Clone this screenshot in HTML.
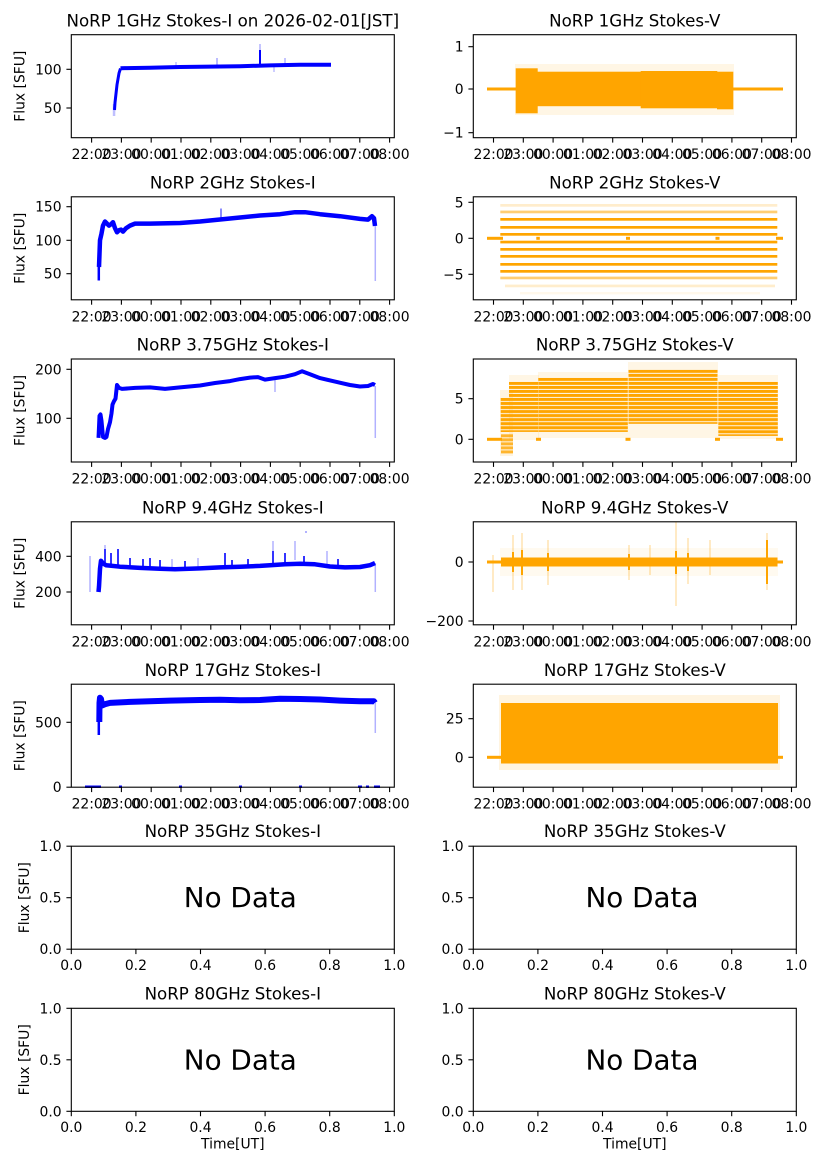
<!DOCTYPE html>
<html><head><meta charset="utf-8"><style>
html,body{margin:0;padding:0;background:#fff;}
svg{display:block;}
text{font-family:"DejaVu Sans","Liberation Sans",sans-serif;fill:#000;}
.tk{font-size:13.9px;}
.tt{font-size:16.67px;}
.yl{font-size:13.9px;}
.nd{font-size:27.8px;}
.ax{fill:none;stroke:#000;stroke-width:1.1;}
.tm line{stroke:#000;stroke-width:1.1;}
.bl{fill:none;stroke:#0000ff;stroke-linejoin:round;stroke-linecap:butt;}
</style></head><body>
<svg width="827" height="1169" viewBox="0 0 827 1169" xmlns="http://www.w3.org/2000/svg">
<defs>
<pattern id="strp" patternUnits="userSpaceOnUse" x="0" y="381.9" width="10" height="4.03">
<rect x="0" y="0" width="10" height="3" fill="#ffa500"/>
</pattern>
<g id="xl" stroke="#000" stroke-width="1.1">
<line x1="91.6" y1="0" x2="91.6" y2="4.9"/><line x1="121.4" y1="0" x2="121.4" y2="4.9"/><line x1="151.2" y1="0" x2="151.2" y2="4.9"/><line x1="181" y1="0" x2="181" y2="4.9"/><line x1="210.8" y1="0" x2="210.8" y2="4.9"/><line x1="240.6" y1="0" x2="240.6" y2="4.9"/><line x1="270.4" y1="0" x2="270.4" y2="4.9"/><line x1="300.2" y1="0" x2="300.2" y2="4.9"/><line x1="330" y1="0" x2="330" y2="4.9"/><line x1="359.8" y1="0" x2="359.8" y2="4.9"/><line x1="389.6" y1="0" x2="389.6" y2="4.9"/>
</g>
</defs>
<rect width="827" height="1169" fill="#fff"/>

<!-- ================= ROW 1 ================= -->
<g>
<rect x="112.8" y="104" width="2.5" height="12" fill="#0000ff" opacity="0.25"/>
<polyline class="bl" stroke-width="3" points="114.5,110 115,102.6 117,84.8 119,73.2 120.5,68.5"/>
<polyline class="bl" stroke-width="4" points="120.5,68.3 125,68.1 150,67.8 180,67 210,66.6 240,66.2 270,65.4 300,64.7 331,64.7"/>
<line x1="260" y1="66" x2="260" y2="50" stroke="#0000ff" stroke-width="2"/>
<line x1="260" y1="50" x2="260" y2="44" stroke="#0000ff" stroke-width="1.5" opacity="0.3"/>
<line x1="217" y1="66" x2="217" y2="58" stroke="#0000ff" stroke-width="1.5" opacity="0.35"/>
<line x1="285" y1="65" x2="285" y2="58" stroke="#0000ff" stroke-width="1.5" opacity="0.3"/>
<line x1="176" y1="67" x2="176" y2="62" stroke="#0000ff" stroke-width="1.5" opacity="0.25"/>
<line x1="274" y1="66" x2="274" y2="72" stroke="#0000ff" stroke-width="1.5" opacity="0.25"/>
</g>
<g>
<rect x="487" y="87.5" width="296" height="3" fill="#ffa500"/>
<rect x="515" y="64" width="219" height="51" fill="#ffa500" opacity="0.1"/>
<rect x="515.7" y="68.3" width="22" height="45" fill="#ffa500"/>
<rect x="537.5" y="71.7" width="103.5" height="34.5" fill="#ffa500"/>
<rect x="640.7" y="71" width="76.6" height="37.3" fill="#ffa500"/>
<rect x="717" y="71.7" width="16.3" height="37.6" fill="#ffa500"/>
</g>
<rect class="ax" x="71.3" y="34.7" width="323" height="103"/>
<rect class="ax" x="473.3" y="34.7" width="323" height="103"/>

<!-- ================= ROW 2 ================= -->
<g>
<line x1="98.8" y1="280.5" x2="98.8" y2="262" stroke="#0000ff" stroke-width="2.5"/>
<polyline class="bl" stroke-width="4.5" points="99,267 100,240.3 101.5,233.6 103,225.6 105,221.5 107,223.6 109,225.6 111,224.3 113,222.2 115,228.2 117,232.3 119,230.3 121,229.6 123,231.6 126,228.2 130,225.6 135,223.6 150,223.6 180,223 200,221.5 220,219.5 240,217.5 260,215.5 280,214.2 295,212.2 305,212.2 320,214.2 340,216.2 360,218.9 368,219.6 372,216.2 374,218.2 375,226"/>
<line x1="221" y1="218" x2="221" y2="208.5" stroke="#0000ff" stroke-width="1.5" opacity="0.6"/>
<line x1="375.3" y1="226" x2="375.3" y2="281" stroke="#0000ff" stroke-width="1.5" opacity="0.3"/>
</g>
<g fill="#ffa500">
<rect x="500.3" y="204" width="277" height="2.7" opacity="0.2"/>
<rect x="500.3" y="210.6" width="277" height="2.7" opacity="0.55"/>
<rect x="500.3" y="218" width="277" height="2.7"/>
<rect x="500.3" y="226" width="277" height="2.7"/>
<rect x="500.3" y="233" width="277" height="2.7"/>
<rect x="500.3" y="240.7" width="277" height="2.7"/>
<rect x="500.3" y="248" width="277" height="2.7"/>
<rect x="500.3" y="255" width="277" height="2.7"/>
<rect x="500.3" y="263" width="277" height="2.7"/>
<rect x="500.3" y="270" width="277" height="2.7"/>
<rect x="500.3" y="276.6" width="277" height="2.7" opacity="0.55"/>
<rect x="505" y="284.6" width="270" height="2.7" opacity="0.2"/>
<rect x="520" y="292" width="240" height="2.4" opacity="0.08"/>
<rect x="487" y="236.8" width="16" height="3"/>
<rect x="536.3" y="236.8" width="3.5" height="3"/>
<rect x="626" y="236.8" width="4" height="3"/>
<rect x="715.5" y="236.8" width="4" height="3"/>
<rect x="776" y="236.8" width="7" height="3"/>
</g>
<rect class="ax" x="71.3" y="196.8" width="323" height="103"/>
<rect class="ax" x="473.3" y="196.8" width="323" height="103"/>

<!-- ================= ROW 3 ================= -->
<g>
<polyline class="bl" stroke-width="4" points="98.5,437.9 99.5,415.9 100.5,414.4 101.5,420.8 103,436.9 105,437.9 106.5,436.9 108,429.1 110,422.2 111.5,413.4 112.5,404.6 114,401.2 115.5,398.7 117,385 119,387.9 122,388.9 135,387.9 150,387.4 165,388.9 180,387.4 200,385.5 215,383 230,381.1 240,379.1 250,377.6 258,377.1 265,379.6 275,378.1 285,376.7 295,374.2 302,371.3 310,374.2 320,378.1 335,381.6 350,385 360,386.5 368,386 373,384 375,385"/>
<line x1="375.3" y1="386" x2="375.3" y2="438" stroke="#0000ff" stroke-width="1.5" opacity="0.3"/>
<line x1="275" y1="380" x2="275" y2="392" stroke="#0000ff" stroke-width="1.5" opacity="0.3"/>
</g>
<g>
<rect x="500" y="390" width="13" height="66" fill="#ffa500" opacity="0.12"/>
<rect x="500.7" y="398" width="8.5" height="34" fill="url(#strp)"/>
<rect x="501" y="434" width="12" height="20" fill="url(#strp)" opacity="0.8"/>
<rect x="509" y="375" width="30" height="65" fill="#ffa500" opacity="0.1"/>
<rect x="509" y="381.9" width="29" height="50" fill="url(#strp)"/>
<rect x="538" y="372" width="90" height="66" fill="#ffa500" opacity="0.1"/>
<rect x="538.3" y="377.9" width="89.5" height="54" fill="url(#strp)"/>
<rect x="628" y="362" width="90" height="76" fill="#ffa500" opacity="0.1"/>
<rect x="628.5" y="369.8" width="89" height="54" fill="url(#strp)"/>
<rect x="718" y="375" width="60" height="64" fill="#ffa500" opacity="0.1"/>
<rect x="718.3" y="381.9" width="59.5" height="54" fill="url(#strp)"/>
<g fill="#ffa500">
<rect x="487" y="437.8" width="15" height="3"/>
<rect x="536" y="437.8" width="5" height="3"/>
<rect x="625.5" y="437.8" width="5" height="3"/>
<rect x="715" y="437.8" width="5" height="3"/>
<rect x="776" y="437.8" width="7" height="3"/>
</g>
</g>
<rect class="ax" x="71.3" y="359" width="323" height="103"/>
<rect class="ax" x="473.3" y="359" width="323" height="103"/>

<!-- ================= ROW 4 ================= -->
<g>
<line x1="90" y1="556" x2="90" y2="592" stroke="#0000ff" stroke-width="1.5" opacity="0.3"/>
<polyline class="bl" stroke-width="4.5" points="98.5,592 99,586.6 100,568.8 101,560.8 103,563.4 106,565.2 110,565.6 120,566.7 140,567.9 160,568.8 175,569.2 200,568.4 220,567.4 240,566.7 260,565.9 270,565.2 285,564.3 300,563.8 315,564.3 330,566.5 345,567.4 360,567 370,565.2 375,563.1"/>
<line x1="375.3" y1="563" x2="375.3" y2="592" stroke="#0000ff" stroke-width="1.5" opacity="0.3"/>
<g stroke="#0000ff" stroke-width="1.6">
<line x1="105" y1="563" x2="105" y2="549"/>
<line x1="111" y1="564" x2="111" y2="553"/>
<line x1="118" y1="565" x2="118" y2="549"/>
<line x1="130" y1="566" x2="130" y2="558"/>
<line x1="143" y1="567" x2="143" y2="559"/>
<line x1="150" y1="567" x2="150" y2="558"/>
<line x1="160" y1="568" x2="160" y2="560"/>
<line x1="185" y1="568" x2="185" y2="561"/>
<line x1="225" y1="567" x2="225" y2="553"/>
<line x1="232" y1="567" x2="232" y2="560"/>
<line x1="248" y1="566" x2="248" y2="559"/>
<line x1="273" y1="565" x2="273" y2="551"/>
<line x1="285" y1="564" x2="285" y2="553"/>
<line x1="304" y1="564" x2="304" y2="556"/>
<line x1="338" y1="567" x2="338" y2="559"/>
</g>
<g stroke="#0000ff" stroke-width="1.5" opacity="0.3">
<line x1="105" y1="549" x2="105" y2="545"/>
<line x1="273" y1="551" x2="273" y2="541"/>
<line x1="295" y1="560" x2="295" y2="541"/>
<line x1="327" y1="566" x2="327" y2="551"/>
<line x1="198" y1="568" x2="198" y2="558"/>
<line x1="172" y1="568" x2="172" y2="559"/>
</g>
<rect x="305" y="531" width="2" height="2" fill="#0000ff" opacity="0.3"/>
</g>
<g>
<rect x="500" y="548" width="278" height="28" fill="#ffa500" opacity="0.06"/>
<rect x="487" y="560.5" width="296" height="3" fill="#ffa500"/>
<rect x="501" y="557.5" width="276.5" height="9" fill="#ffa500"/>
<g stroke="#ffa500" stroke-width="2">
<line x1="513" y1="552" x2="513" y2="572"/>
<line x1="522" y1="550" x2="522" y2="575"/>
<line x1="548" y1="553" x2="548" y2="571"/>
<line x1="629" y1="554" x2="629" y2="570"/>
<line x1="676" y1="551" x2="676" y2="574"/>
<line x1="688" y1="553" x2="688" y2="571"/>
<line x1="767" y1="540" x2="767" y2="584"/>
</g>
<g stroke="#ffa500" stroke-width="1.5" opacity="0.3">
<line x1="513" y1="535" x2="513" y2="590"/>
<line x1="522" y1="533" x2="522" y2="590"/>
<line x1="548" y1="540" x2="548" y2="585"/>
<line x1="629" y1="545" x2="629" y2="580"/>
<line x1="676" y1="522" x2="676" y2="606"/>
<line x1="688" y1="538" x2="688" y2="584"/>
<line x1="767" y1="533" x2="767" y2="590"/>
<line x1="493" y1="555" x2="493" y2="592"/>
<line x1="650" y1="545" x2="650" y2="575"/>
<line x1="710" y1="540" x2="710" y2="575"/>
</g>
</g>
<rect class="ax" x="71.3" y="521.8" width="323" height="103"/>
<rect class="ax" x="473.3" y="521.8" width="323" height="103"/>

<!-- ================= ROW 5 ================= -->
<g>
<line x1="98.8" y1="735" x2="98.8" y2="722" stroke="#0000ff" stroke-width="2.5"/>
<polyline class="bl" stroke-width="6" points="99.3,722 99.5,702.9 100,697.7 101,699 102,705.5 105,704.2 110,702.9 130,701.9 150,701.3 170,700.6 200,700 220,699.7 240,700.3 260,700 280,698.7 300,699 320,699.5 340,700.6 360,701.3 374,701.3 375,702.9"/>
<line x1="375.3" y1="703" x2="375.3" y2="733" stroke="#0000ff" stroke-width="1.5" opacity="0.3"/>
<g fill="#0000ff">
<rect x="85" y="785.5" width="16" height="2.5"/>
<rect x="119" y="785.5" width="3" height="2.5"/>
<rect x="179" y="785.5" width="3" height="2.5"/>
<rect x="239" y="785.5" width="3" height="2.5"/>
<rect x="299" y="785.5" width="3" height="2.5"/>
<rect x="358" y="785.5" width="4" height="2.5"/>
<rect x="366" y="785.5" width="3" height="2.5"/>
<rect x="374" y="785.5" width="6" height="2.5"/>
</g>
</g>
<g>
<rect x="499" y="695" width="281" height="75" fill="#ffa500" opacity="0.12"/>
<rect x="487" y="755.8" width="296" height="3" fill="#ffa500"/>
<rect x="501" y="703" width="277" height="60.5" fill="#ffa500"/>
</g>
<rect class="ax" x="71.3" y="684.2" width="323" height="103"/>
<rect class="ax" x="473.3" y="684.2" width="323" height="103"/>

<!-- ================= ROW 6 & 7 ================= -->
<rect class="ax" x="71.3" y="846.2" width="323" height="103"/>
<rect class="ax" x="473.3" y="846.2" width="323" height="103"/>
<rect class="ax" x="71.3" y="1008.3" width="323" height="103"/>
<rect class="ax" x="473.3" y="1008.3" width="323" height="103"/>
<text class="nd" x="240.3" y="907.2" text-anchor="middle">No Data</text>
<text class="nd" x="642" y="907.2" text-anchor="middle">No Data</text>
<text class="nd" x="240.3" y="1069.3" text-anchor="middle">No Data</text>
<text class="nd" x="642" y="1069.3" text-anchor="middle">No Data</text>

<!-- ================= TITLES ================= -->
<g text-anchor="middle">
<text class="tt" x="232.8" y="26.4">NoRP 1GHz Stokes-I on 2026-02-01[JST]</text>
<text class="tt" x="634.8" y="26.4">NoRP 1GHz Stokes-V</text>
<text class="tt" x="232.8" y="188.4">NoRP 2GHz Stokes-I</text>
<text class="tt" x="634.8" y="188.4">NoRP 2GHz Stokes-V</text>
<text class="tt" x="232.8" y="350.6">NoRP 3.75GHz Stokes-I</text>
<text class="tt" x="634.8" y="350.6">NoRP 3.75GHz Stokes-V</text>
<text class="tt" x="232.8" y="513.4">NoRP 9.4GHz Stokes-I</text>
<text class="tt" x="634.8" y="513.4">NoRP 9.4GHz Stokes-V</text>
<text class="tt" x="232.8" y="675.8">NoRP 17GHz Stokes-I</text>
<text class="tt" x="634.8" y="675.8">NoRP 17GHz Stokes-V</text>
<text class="tt" x="232.8" y="837.2">NoRP 35GHz Stokes-I</text>
<text class="tt" x="634.8" y="837.2">NoRP 35GHz Stokes-V</text>
<text class="tt" x="232.8" y="999.3">NoRP 80GHz Stokes-I</text>
<text class="tt" x="634.8" y="999.3">NoRP 80GHz Stokes-V</text>
</g>

<!-- ================= Y LABELS ================= -->
<g text-anchor="middle">
<text class="yl" transform="translate(24.5,86.2) rotate(-90)">Flux [SFU]</text>
<text class="yl" transform="translate(24.5,248.3) rotate(-90)">Flux [SFU]</text>
<text class="yl" transform="translate(24.5,410.5) rotate(-90)">Flux [SFU]</text>
<text class="yl" transform="translate(24.5,573.3) rotate(-90)">Flux [SFU]</text>
<text class="yl" transform="translate(24.5,735.7) rotate(-90)">Flux [SFU]</text>
<text class="yl" transform="translate(29,897.7) rotate(-90)">Flux [SFU]</text>
<text class="yl" transform="translate(29,1059.8) rotate(-90)">Flux [SFU]</text>
</g>
<text class="yl" x="232.8" y="1148.5" text-anchor="middle">Time[UT]</text>
<text class="yl" x="634.8" y="1148.5" text-anchor="middle">Time[UT]</text>

<!-- ================= Y TICKS ================= -->
<g class="tm">
<line x1="71.3" y1="69.3" x2="66.4" y2="69.3"/><line x1="71.3" y1="108" x2="66.4" y2="108"/>
<line x1="473.3" y1="46.7" x2="468.4" y2="46.7"/><line x1="473.3" y1="89" x2="468.4" y2="89"/><line x1="473.3" y1="132.7" x2="468.4" y2="132.7"/>
<line x1="71.3" y1="206.7" x2="66.4" y2="206.7"/><line x1="71.3" y1="240.3" x2="66.4" y2="240.3"/><line x1="71.3" y1="273.7" x2="66.4" y2="273.7"/>
<line x1="473.3" y1="202.3" x2="468.4" y2="202.3"/><line x1="473.3" y1="238.3" x2="468.4" y2="238.3"/><line x1="473.3" y1="274.3" x2="468.4" y2="274.3"/>
<line x1="71.3" y1="369.3" x2="66.4" y2="369.3"/><line x1="71.3" y1="418.3" x2="66.4" y2="418.3"/>
<line x1="473.3" y1="398.7" x2="468.4" y2="398.7"/><line x1="473.3" y1="439.3" x2="468.4" y2="439.3"/>
<line x1="71.3" y1="556.3" x2="66.4" y2="556.3"/><line x1="71.3" y1="592" x2="66.4" y2="592"/>
<line x1="473.3" y1="562" x2="468.4" y2="562"/><line x1="473.3" y1="621" x2="468.4" y2="621"/>
<line x1="71.3" y1="722.3" x2="66.4" y2="722.3"/><line x1="71.3" y1="787.2" x2="66.4" y2="787.2"/>
<line x1="473.3" y1="718.7" x2="468.4" y2="718.7"/><line x1="473.3" y1="757.3" x2="468.4" y2="757.3"/>
<line x1="71.3" y1="846.2" x2="66.4" y2="846.2"/><line x1="71.3" y1="897.7" x2="66.4" y2="897.7"/><line x1="71.3" y1="949.2" x2="66.4" y2="949.2"/>
<line x1="473.3" y1="846.2" x2="468.4" y2="846.2"/><line x1="473.3" y1="897.7" x2="468.4" y2="897.7"/><line x1="473.3" y1="949.2" x2="468.4" y2="949.2"/>
<line x1="71.3" y1="1008.3" x2="66.4" y2="1008.3"/><line x1="71.3" y1="1059.8" x2="66.4" y2="1059.8"/><line x1="71.3" y1="1111.3" x2="66.4" y2="1111.3"/>
<line x1="473.3" y1="1008.3" x2="468.4" y2="1008.3"/><line x1="473.3" y1="1059.8" x2="468.4" y2="1059.8"/><line x1="473.3" y1="1111.3" x2="468.4" y2="1111.3"/>
</g>
<g text-anchor="end">
<text class="tk" x="61.6" y="74.3">100</text><text class="tk" x="61.6" y="113">50</text>
<text class="tk" x="463.6" y="51.7">1</text><text class="tk" x="463.6" y="94">0</text><text class="tk" x="463.6" y="137.7">−1</text>
<text class="tk" x="61.6" y="211.7">150</text><text class="tk" x="61.6" y="245.3">100</text><text class="tk" x="61.6" y="278.7">50</text>
<text class="tk" x="463.6" y="207.3">5</text><text class="tk" x="463.6" y="243.3">0</text><text class="tk" x="463.6" y="279.3">−5</text>
<text class="tk" x="61.6" y="374.3">200</text><text class="tk" x="61.6" y="423.3">100</text>
<text class="tk" x="463.6" y="403.7">5</text><text class="tk" x="463.6" y="444.3">0</text>
<text class="tk" x="61.6" y="561.3">400</text><text class="tk" x="61.6" y="597">200</text>
<text class="tk" x="463.6" y="567">0</text><text class="tk" x="463.6" y="626">−200</text>
<text class="tk" x="61.6" y="727.3">500</text><text class="tk" x="61.6" y="792.2">0</text>
<text class="tk" x="463.6" y="723.7">25</text><text class="tk" x="463.6" y="762.3">0</text>
<text class="tk" x="61.6" y="851.2">1.0</text><text class="tk" x="61.6" y="902.7">0.5</text><text class="tk" x="61.6" y="954.2">0.0</text>
<text class="tk" x="463.6" y="851.2">1.0</text><text class="tk" x="463.6" y="902.7">0.5</text><text class="tk" x="463.6" y="954.2">0.0</text>
<text class="tk" x="61.6" y="1013.3">1.0</text><text class="tk" x="61.6" y="1064.8">0.5</text><text class="tk" x="61.6" y="1116.3">0.0</text>
<text class="tk" x="463.6" y="1013.3">1.0</text><text class="tk" x="463.6" y="1064.8">0.5</text><text class="tk" x="463.6" y="1116.3">0.0</text>
</g>

<!-- ================= X TICKS (time) ================= -->
<use href="#xl" transform="translate(0,137.7)"/>
<use href="#xl" transform="translate(0,299.8)"/>
<use href="#xl" transform="translate(0,462)"/>
<use href="#xl" transform="translate(0,624.8)"/>
<use href="#xl" transform="translate(0,787.2)"/>
<use href="#xl" transform="translate(401.9,137.7)"/>
<use href="#xl" transform="translate(401.9,299.8)"/>
<use href="#xl" transform="translate(401.9,462)"/>
<use href="#xl" transform="translate(401.9,624.8)"/>
<use href="#xl" transform="translate(401.9,787.2)"/>

<g text-anchor="middle">
<g transform="translate(0,159.2)">
<text class="tk" x="91.6">22:00</text><text class="tk" x="121.4">23:00</text><text class="tk" x="151.2">00:00</text><text class="tk" x="181">01:00</text><text class="tk" x="210.8">02:00</text><text class="tk" x="240.6">03:00</text><text class="tk" x="270.4">04:00</text><text class="tk" x="300.2">05:00</text><text class="tk" x="330">06:00</text><text class="tk" x="359.8">07:00</text><text class="tk" x="389.6">08:00</text>
</g>
<g transform="translate(0,321.3)">
<text class="tk" x="91.6">22:00</text><text class="tk" x="121.4">23:00</text><text class="tk" x="151.2">00:00</text><text class="tk" x="181">01:00</text><text class="tk" x="210.8">02:00</text><text class="tk" x="240.6">03:00</text><text class="tk" x="270.4">04:00</text><text class="tk" x="300.2">05:00</text><text class="tk" x="330">06:00</text><text class="tk" x="359.8">07:00</text><text class="tk" x="389.6">08:00</text>
</g>
<g transform="translate(0,483.5)">
<text class="tk" x="91.6">22:00</text><text class="tk" x="121.4">23:00</text><text class="tk" x="151.2">00:00</text><text class="tk" x="181">01:00</text><text class="tk" x="210.8">02:00</text><text class="tk" x="240.6">03:00</text><text class="tk" x="270.4">04:00</text><text class="tk" x="300.2">05:00</text><text class="tk" x="330">06:00</text><text class="tk" x="359.8">07:00</text><text class="tk" x="389.6">08:00</text>
</g>
<g transform="translate(0,646.3)">
<text class="tk" x="91.6">22:00</text><text class="tk" x="121.4">23:00</text><text class="tk" x="151.2">00:00</text><text class="tk" x="181">01:00</text><text class="tk" x="210.8">02:00</text><text class="tk" x="240.6">03:00</text><text class="tk" x="270.4">04:00</text><text class="tk" x="300.2">05:00</text><text class="tk" x="330">06:00</text><text class="tk" x="359.8">07:00</text><text class="tk" x="389.6">08:00</text>
</g>
<g transform="translate(0,808.7)">
<text class="tk" x="91.6">22:00</text><text class="tk" x="121.4">23:00</text><text class="tk" x="151.2">00:00</text><text class="tk" x="181">01:00</text><text class="tk" x="210.8">02:00</text><text class="tk" x="240.6">03:00</text><text class="tk" x="270.4">04:00</text><text class="tk" x="300.2">05:00</text><text class="tk" x="330">06:00</text><text class="tk" x="359.8">07:00</text><text class="tk" x="389.6">08:00</text>
</g>
<g transform="translate(401.9,159.2)">
<text class="tk" x="91.6">22:00</text><text class="tk" x="121.4">23:00</text><text class="tk" x="151.2">00:00</text><text class="tk" x="181">01:00</text><text class="tk" x="210.8">02:00</text><text class="tk" x="240.6">03:00</text><text class="tk" x="270.4">04:00</text><text class="tk" x="300.2">05:00</text><text class="tk" x="330">06:00</text><text class="tk" x="359.8">07:00</text><text class="tk" x="389.6">08:00</text>
</g>
<g transform="translate(401.9,321.3)">
<text class="tk" x="91.6">22:00</text><text class="tk" x="121.4">23:00</text><text class="tk" x="151.2">00:00</text><text class="tk" x="181">01:00</text><text class="tk" x="210.8">02:00</text><text class="tk" x="240.6">03:00</text><text class="tk" x="270.4">04:00</text><text class="tk" x="300.2">05:00</text><text class="tk" x="330">06:00</text><text class="tk" x="359.8">07:00</text><text class="tk" x="389.6">08:00</text>
</g>
<g transform="translate(401.9,483.5)">
<text class="tk" x="91.6">22:00</text><text class="tk" x="121.4">23:00</text><text class="tk" x="151.2">00:00</text><text class="tk" x="181">01:00</text><text class="tk" x="210.8">02:00</text><text class="tk" x="240.6">03:00</text><text class="tk" x="270.4">04:00</text><text class="tk" x="300.2">05:00</text><text class="tk" x="330">06:00</text><text class="tk" x="359.8">07:00</text><text class="tk" x="389.6">08:00</text>
</g>
<g transform="translate(401.9,646.3)">
<text class="tk" x="91.6">22:00</text><text class="tk" x="121.4">23:00</text><text class="tk" x="151.2">00:00</text><text class="tk" x="181">01:00</text><text class="tk" x="210.8">02:00</text><text class="tk" x="240.6">03:00</text><text class="tk" x="270.4">04:00</text><text class="tk" x="300.2">05:00</text><text class="tk" x="330">06:00</text><text class="tk" x="359.8">07:00</text><text class="tk" x="389.6">08:00</text>
</g>
<g transform="translate(401.9,808.7)">
<text class="tk" x="91.6">22:00</text><text class="tk" x="121.4">23:00</text><text class="tk" x="151.2">00:00</text><text class="tk" x="181">01:00</text><text class="tk" x="210.8">02:00</text><text class="tk" x="240.6">03:00</text><text class="tk" x="270.4">04:00</text><text class="tk" x="300.2">05:00</text><text class="tk" x="330">06:00</text><text class="tk" x="359.8">07:00</text><text class="tk" x="389.6">08:00</text>
</g>
</g>

<!-- ================= X TICKS (0-1) ================= -->
<g class="tm">
<line x1="71.3" y1="949.2" x2="71.3" y2="954.1"/><line x1="135.9" y1="949.2" x2="135.9" y2="954.1"/><line x1="200.5" y1="949.2" x2="200.5" y2="954.1"/><line x1="265.1" y1="949.2" x2="265.1" y2="954.1"/><line x1="329.7" y1="949.2" x2="329.7" y2="954.1"/><line x1="394.3" y1="949.2" x2="394.3" y2="954.1"/>
<line x1="473.3" y1="949.2" x2="473.3" y2="954.1"/><line x1="537.9" y1="949.2" x2="537.9" y2="954.1"/><line x1="602.5" y1="949.2" x2="602.5" y2="954.1"/><line x1="667.1" y1="949.2" x2="667.1" y2="954.1"/><line x1="731.7" y1="949.2" x2="731.7" y2="954.1"/><line x1="796.3" y1="949.2" x2="796.3" y2="954.1"/>
<line x1="71.3" y1="1111.3" x2="71.3" y2="1116.2"/><line x1="135.9" y1="1111.3" x2="135.9" y2="1116.2"/><line x1="200.5" y1="1111.3" x2="200.5" y2="1116.2"/><line x1="265.1" y1="1111.3" x2="265.1" y2="1116.2"/><line x1="329.7" y1="1111.3" x2="329.7" y2="1116.2"/><line x1="394.3" y1="1111.3" x2="394.3" y2="1116.2"/>
<line x1="473.3" y1="1111.3" x2="473.3" y2="1116.2"/><line x1="537.9" y1="1111.3" x2="537.9" y2="1116.2"/><line x1="602.5" y1="1111.3" x2="602.5" y2="1116.2"/><line x1="667.1" y1="1111.3" x2="667.1" y2="1116.2"/><line x1="731.7" y1="1111.3" x2="731.7" y2="1116.2"/><line x1="796.3" y1="1111.3" x2="796.3" y2="1116.2"/>
</g>
<g text-anchor="middle">
<text class="tk" x="71.3" y="969.8">0.0</text><text class="tk" x="135.9" y="969.8">0.2</text><text class="tk" x="200.5" y="969.8">0.4</text><text class="tk" x="265.1" y="969.8">0.6</text><text class="tk" x="329.7" y="969.8">0.8</text><text class="tk" x="394.3" y="969.8">1.0</text>
<text class="tk" x="473.3" y="969.8">0.0</text><text class="tk" x="537.9" y="969.8">0.2</text><text class="tk" x="602.5" y="969.8">0.4</text><text class="tk" x="667.1" y="969.8">0.6</text><text class="tk" x="731.7" y="969.8">0.8</text><text class="tk" x="796.3" y="969.8">1.0</text>
<text class="tk" x="71.3" y="1131.9">0.0</text><text class="tk" x="135.9" y="1131.9">0.2</text><text class="tk" x="200.5" y="1131.9">0.4</text><text class="tk" x="265.1" y="1131.9">0.6</text><text class="tk" x="329.7" y="1131.9">0.8</text><text class="tk" x="394.3" y="1131.9">1.0</text>
<text class="tk" x="473.3" y="1131.9">0.0</text><text class="tk" x="537.9" y="1131.9">0.2</text><text class="tk" x="602.5" y="1131.9">0.4</text><text class="tk" x="667.1" y="1131.9">0.6</text><text class="tk" x="731.7" y="1131.9">0.8</text><text class="tk" x="796.3" y="1131.9">1.0</text>
</g>
</svg>
</body></html>
